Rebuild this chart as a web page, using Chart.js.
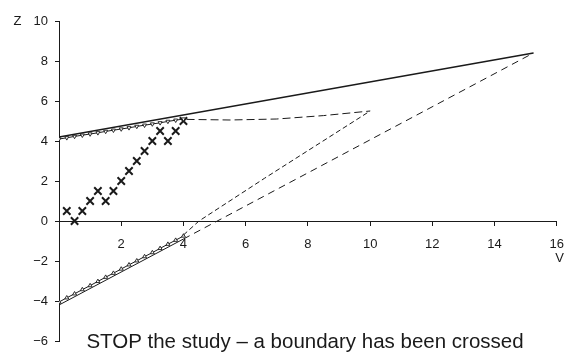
<!DOCTYPE html>
<html>
<head>
<meta charset="utf-8">
<script src="https://cdn.jsdelivr.net/npm/chart.js@4.4.1/dist/chart.umd.min.js"></script>
<style>
html,body{margin:0;padding:0;background:#fff;}
#wrap{width:564px;height:352px;position:relative;}
</style>
</head>
<body>
<div id="wrap"><canvas id="c" width="564" height="352"></canvas></div>
<script>
// ---- data ----
const obsV = [0.25,0.5,0.75,1.0,1.25,1.5,1.75,2.0,2.25,2.5,2.75,3.0,3.25,3.5,3.75,4.0];
const obsZ = [0.5,0,0.5,1.0,1.5,1.0,1.5,2.0,2.5,3.0,3.5,4.0,4.5,4.0,4.5,5.0];

const upperBoundV = [0, 15.25];
const upperBoundZ = [4.2, 8.4];

const lowerBoundSolidV = [0, 4.0];
const lowerBoundSolidZ = [-4.2, -0.9];
const lowerBoundDashV = [4.0, 15.25];
const lowerBoundDashZ = [-0.9, 8.4];

const innerUpperV = [0,0.25,0.5,0.75,1.0,1.25,1.5,1.75,2.0,2.25,2.5,2.75,3.0,3.25,3.5,3.75,4.0];
const innerUpperZ = [4.10,4.16,4.23,4.29,4.35,4.41,4.48,4.54,4.60,4.66,4.73,4.79,4.85,4.91,4.98,5.04,5.10];
const innerLowerV = [0,0.25,0.5,0.75,1.0,1.25,1.5,1.75,2.0,2.25,2.5,2.75,3.0,3.25,3.5,3.75,4.0];
const innerLowerZ = [-4.05,-3.84,-3.64,-3.43,-3.23,-3.02,-2.81,-2.61,-2.40,-2.19,-1.99,-1.78,-1.58,-1.37,-1.16,-0.96,-0.75];

const innerUpperDashV = [4.1, 5.5, 7.0, 8.5, 10.0];
const innerUpperDashZ = [5.08, 5.05, 5.1, 5.27, 5.5];
const innerLowerDashV = [4.0, 4.5, 6.6, 10.0];
const innerLowerDashZ = [-0.7, 0.0, 2.13, 5.5];

const xTicks = [2,4,6,8,10,12,14,16];
const yTicks = [-6,-4,-2,0,2,4,6,8,10];
const xTitle = 'V';
const yTitle = 'Z';
const note = 'STOP the study \u2013 a boundary has been crossed';

function pts(vs, zs){ return vs.map((v,i)=>({x:v,y:zs[i]})); }
function fmt(v){ return v < 0 ? '\u2212' + Math.abs(v) : String(v); }

const INK = '#1a1a1a';

const textPlugin = {
  id: 'texts',
  afterDraw(chart){
    const ctx = chart.ctx;
    ctx.save();
    ctx.fillStyle = INK;
    ctx.font = '13px "Liberation Sans", Arial, sans-serif';
    ctx.textAlign = 'center';
    ctx.textBaseline = 'middle';
    ctx.fillText(yTitle, 17.5, 21);
    ctx.fillText(xTitle, 559.5, 258);
    ctx.font = '20.5px "Liberation Sans", Arial, sans-serif';
    ctx.textBaseline = 'alphabetic';
    ctx.fillText(note, 305, 348);
    ctx.restore();
  }
};

const lineDs = (data, opts) => Object.assign({
  data, showLine: true, fill: false, pointRadius: 0, borderColor: INK,
  borderWidth: 1, tension: 0
}, opts);

new Chart(document.getElementById('c'), {
  type: 'scatter',
  data: {
    datasets: [
      lineDs(pts(upperBoundV, upperBoundZ), {borderWidth: 1.5}),
      lineDs(pts(lowerBoundSolidV, lowerBoundSolidZ), {}),
      lineDs(pts(lowerBoundDashV, lowerBoundDashZ), {borderDash: [7,5]}),
      lineDs(pts(innerUpperDashV, innerUpperDashZ), {borderDash: [8,4]}),
      lineDs(pts(innerLowerDashV, innerLowerDashZ), {borderDash: [5,3]}),
      lineDs(pts(innerUpperV, innerUpperZ), {pointRadius: 2.3, pointStyle: 'triangle', rotation: 180, pointBorderWidth: 0.9, pointBackgroundColor: '#fff', pointBorderColor: INK}),
      lineDs(pts(innerLowerV, innerLowerZ), {pointRadius: 2.3, pointStyle: 'triangle', rotation: 0, pointBorderWidth: 0.9, pointBackgroundColor: '#fff', pointBorderColor: INK}),
      {
        data: pts(obsV, obsZ), showLine: false, pointStyle: 'crossRot',
        pointRadius: 5.2, pointBorderWidth: 2, borderColor: INK, backgroundColor: INK
      }
    ]
  },
  options: {
    responsive: false,
    animation: false,
    devicePixelRatio: 1,
    layout: {padding: {left: 0, right: 4.5, top: 21, bottom: 11}},
    plugins: {legend: {display: false}, tooltip: {enabled: false}},
    scales: {
      x: {
        type: 'linear', min: 0, max: 16, position: {y: 0},
        afterBuildTicks: s => { s.ticks = [0].concat(xTicks).map(v => ({value: v})); },
        afterFit: s => { s.paddingLeft = 0; s.paddingRight = 0; },
        ticks: {
          autoSkip: false, maxRotation: 0, padding: 12, color: INK,
          font: {family: '"Liberation Sans", Arial, sans-serif', size: 13},
          callback: v => v === 0 ? '' : fmt(v)
        },
        grid: {drawOnChartArea: false, drawTicks: true, tickLength: 4, color: INK},
        border: {display: true, color: INK, width: 1}
      },
      y: {
        type: 'linear', min: -6, max: 10, position: 'left',
        afterBuildTicks: s => { s.ticks = yTicks.map(v => ({value: v})); },
        afterFit: s => { s.width = 59; s.paddingTop = 0; s.paddingBottom = 0; },
        ticks: {
          autoSkip: false, padding: 7, color: INK,
          font: {family: '"Liberation Sans", Arial, sans-serif', size: 13},
          callback: v => fmt(v)
        },
        grid: {drawOnChartArea: false, drawTicks: true, tickLength: 4, color: INK},
        border: {display: true, color: INK, width: 1}
      }
    }
  },
  plugins: [textPlugin]
});
</script>
</body>
</html>
